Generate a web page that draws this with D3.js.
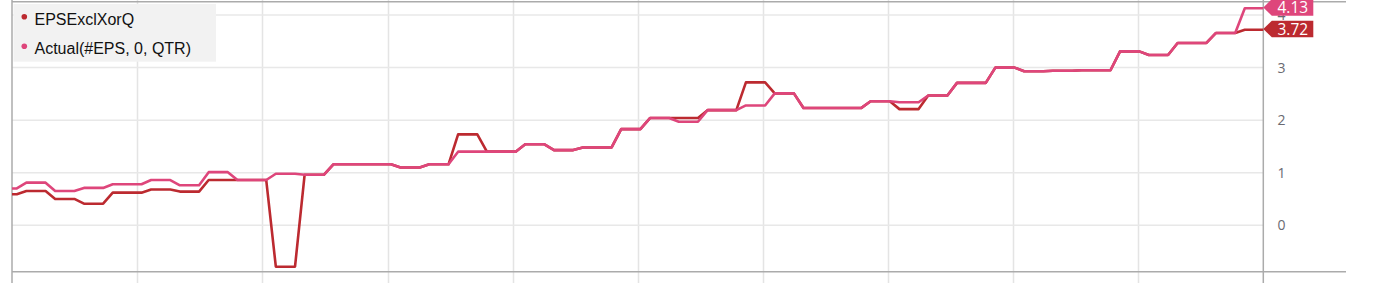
<!DOCTYPE html>
<html>
<head>
<meta charset="utf-8">
<script src="https://cdn.jsdelivr.net/npm/d3@7"></script>
<style>
  html, body { margin: 0; padding: 0; background: #fff; }
  svg { display: block; }
</style>
</head>
<body>
<svg id="canvas"></svg>
<script>
// samples every 4 weeks, first one just before the left edge
const sampleStart = "2013-12-18";
const sampleStepDays = 28;

// EPSExclXorQ (dark red)
const epsExcl = [
  0.59, 0.59,
  0.65, 0.65, 0.65,
  0.50, 0.50, 0.50,
  0.41, 0.41, 0.41,
  0.62, 0.62, 0.62, 0.62,
  0.68, 0.68, 0.68,
  0.64, 0.64, 0.64,
  0.86, 0.86, 0.86,
  0.86, 0.86, 0.86, 0.86,
  -0.79, -0.79, -0.79,
  0.96, 0.96, 0.96,
  1.16, 1.16, 1.16, 1.16, 1.16, 1.16, 1.16,
  1.10, 1.10, 1.10,
  1.16, 1.16, 1.16,
  1.73, 1.73, 1.73,
  1.40, 1.40, 1.40, 1.40,
  1.54, 1.54, 1.54,
  1.43, 1.43, 1.43,
  1.48, 1.48, 1.48, 1.48,
  1.83, 1.83, 1.83,
  2.04, 2.04, 2.04,
  2.04, 2.04, 2.04,
  2.19, 2.19, 2.19, 2.19,
  2.72, 2.72, 2.72,
  2.51, 2.51, 2.51,
  2.23, 2.23, 2.23, 2.23, 2.23, 2.23, 2.23,
  2.36, 2.36, 2.36,
  2.21, 2.21, 2.21,
  2.47, 2.47, 2.47,
  2.71, 2.71, 2.71, 2.71,
  3.00, 3.00, 3.00,
  2.93, 2.93, 2.93,
  2.94, 2.94, 2.94,
  2.95, 2.95, 2.95, 2.95,
  3.31, 3.31, 3.31,
  3.24, 3.24, 3.24,
  3.47, 3.47, 3.47, 3.47,
  3.66, 3.66, 3.66,
  3.72, 3.72, 3.72
];

// Actual(#EPS, 0, QTR) (pink)
const epsActual = [
  0.70, 0.70,
  0.81, 0.81, 0.81,
  0.65, 0.65, 0.65,
  0.71, 0.71, 0.71,
  0.78, 0.78, 0.78, 0.78,
  0.86, 0.86, 0.86,
  0.76, 0.76, 0.76,
  1.01, 1.01, 1.01,
  0.86, 0.86, 0.86, 0.86,
  0.98, 0.98, 0.98,
  0.96, 0.96, 0.96,
  1.16, 1.16, 1.16, 1.16, 1.16, 1.16, 1.16,
  1.10, 1.10, 1.10,
  1.16, 1.16, 1.16,
  1.40, 1.40, 1.40, 1.40, 1.40, 1.40, 1.40,
  1.54, 1.54, 1.54,
  1.43, 1.43, 1.43,
  1.48, 1.48, 1.48, 1.48,
  1.83, 1.83, 1.83,
  2.04, 2.04, 2.04,
  1.97, 1.97, 1.97,
  2.19, 2.19, 2.19, 2.19,
  2.28, 2.28, 2.28,
  2.51, 2.51, 2.51,
  2.23, 2.23, 2.23, 2.23, 2.23, 2.23, 2.23,
  2.36, 2.36, 2.36,
  2.34, 2.34, 2.34,
  2.47, 2.47, 2.47,
  2.71, 2.71, 2.71, 2.71,
  3.00, 3.00, 3.00,
  2.93, 2.93, 2.93,
  2.94, 2.94, 2.94,
  2.95, 2.95, 2.95, 2.95,
  3.31, 3.31, 3.31,
  3.24, 3.24, 3.24,
  3.47, 3.47, 3.47, 3.47,
  3.66, 3.66, 3.66,
  4.13, 4.13, 4.13
];

const seriesNames = ["EPSExclXorQ", "Actual(#EPS, 0, QTR)"];
const seriesColors = ["#bc2a30", "#de467b"];
const yTicks = [0, 1, 2, 3, 4];
const xDomain = ["2014-01-01", "2024-01-01"];
const yDomain = [-0.885, 4.255];

const width = 1373, height = 283;
const plot = { left: 12, right: 1263.3, top: 1.7, bottom: 271.7 };

const svg = d3.select("#canvas").attr("width", width).attr("height", height);

const parse = d3.utcParse("%Y-%m-%d");
const t0 = parse(sampleStart);
const dates = epsActual.map((_, i) => d3.utcDay.offset(t0, i * sampleStepDays));

const x = d3.scaleUtc()
  .domain(xDomain.map(parse))
  .range([plot.left, plot.right]);

const y = d3.scaleLinear()
  .domain(yDomain)
  .range([plot.bottom, plot.top]);

svg.append("defs").append("clipPath")
  .attr("id", "plotclip")
  .append("rect")
  .attr("x", plot.left)
  .attr("y", plot.top)
  .attr("width", plot.right - plot.left)
  .attr("height", plot.bottom - plot.top);

// vertical grid, one per year, running the full height
svg.append("g")
  .selectAll("line")
  .data(x.ticks(d3.utcYear.every(1)).slice(1, -1))
  .join("line")
  .attr("x1", d => Math.round(x(d)) + 0.5)
  .attr("x2", d => Math.round(x(d)) + 0.5)
  .attr("y1", 0)
  .attr("y2", height)
  .attr("stroke", "#e4e4e4")
  .attr("stroke-width", 1.5);

// horizontal grid
svg.append("g")
  .selectAll("line")
  .data(yTicks)
  .join("line")
  .attr("x1", plot.left)
  .attr("x2", plot.right)
  .attr("y1", d => y(d))
  .attr("y2", d => y(d))
  .attr("stroke", "#e8e8e8")
  .attr("stroke-width", 1.5);

// frame
const frame = svg.append("g").attr("stroke", "#ababab").attr("stroke-width", 1.5);
frame.append("line").attr("x1", plot.left).attr("x2", plot.left).attr("y1", 0).attr("y2", height);
frame.append("line").attr("x1", plot.right).attr("x2", plot.right).attr("y1", 0).attr("y2", height);
frame.append("line").attr("x1", plot.left).attr("x2", 1346).attr("y1", plot.top).attr("y2", plot.top);
frame.append("line").attr("x1", plot.left).attr("x2", 1346).attr("y1", plot.bottom).attr("y2", plot.bottom);

// right axis labels
svg.append("g")
  .selectAll("text")
  .data(yTicks)
  .join("text")
  .attr("x", 1281.5)
  .attr("y", d => y(d))
  .attr("dy", "0.36em")
  .attr("text-anchor", "middle")
  .attr("font-family", "'Open Sans', 'DejaVu Sans', sans-serif")
  .attr("font-size", 14)
  .attr("fill", "#6a6a72")
  .text(d => d);

// lines
const line = d3.line()
  .x((d, i) => x(dates[i]))
  .y(d => y(d));

const lines = svg.append("g").attr("clip-path", "url(#plotclip)");
[epsExcl, epsActual].forEach((vals, k) => {
  lines.append("path")
    .datum(vals)
    .attr("fill", "none")
    .attr("stroke", seriesColors[k])
    .attr("stroke-width", 2.6)
    .attr("stroke-linejoin", "round")
    .attr("d", line);
});

// legend
const legend = svg.append("g");
legend.append("rect")
  .attr("x", 13.5)
  .attr("y", 4)
  .attr("width", 202.5)
  .attr("height", 57.7)
  .attr("fill", "#f2f2f2");
seriesNames.forEach((name, k) => {
  const yy = 16.7 + k * 29.5;
  legend.append("circle")
    .attr("cx", 24.3)
    .attr("cy", yy)
    .attr("r", 2.8)
    .attr("fill", seriesColors[k]);
  legend.append("text")
    .attr("x", 34.5)
    .attr("y", yy + 7.8)
    .attr("font-family", "'Liberation Sans', Arial, sans-serif")
    .attr("font-size", 16)
    .attr("fill", "#111")
    .text(name);
});

// last-value tags on the right axis
const lastVals = [epsExcl[epsExcl.length - 1], epsActual[epsActual.length - 1]];
lastVals.forEach((v, k) => {
  const yc = y(v) - 0.8;
  const g = svg.append("g");
  g.append("path")
    .attr("d", `M${plot.right},${yc} L${plot.right + 8.5},${yc - 8.3} L${plot.right + 50},${yc - 8.3} L${plot.right + 50},${yc + 8.3} L${plot.right + 8.5},${yc + 8.3} Z`)
    .attr("fill", seriesColors[k]);
  g.append("text")
    .attr("x", plot.right + 29.5)
    .attr("y", yc)
    .attr("dy", "0.36em")
    .attr("text-anchor", "middle")
    .attr("font-family", "'Open Sans', 'DejaVu Sans', sans-serif")
    .attr("font-size", 15.5)
    .attr("fill", "#fff")
    .text(v.toFixed(2));
});
</script>
</body>
</html>
